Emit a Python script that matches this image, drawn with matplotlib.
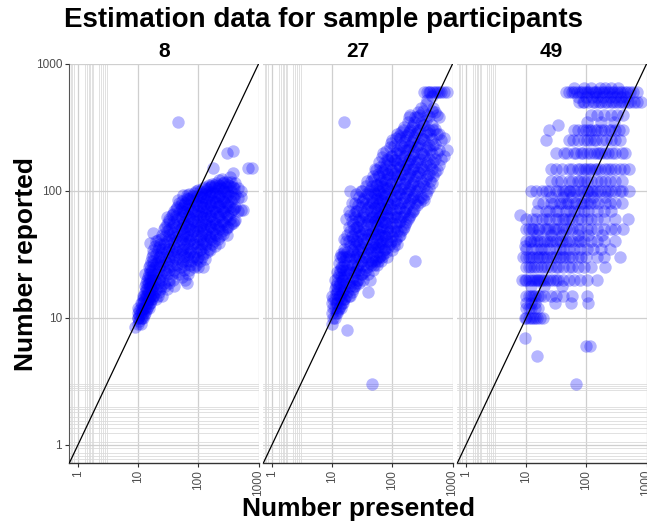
import matplotlib
matplotlib.use("Agg")
import matplotlib.pyplot as plt
from matplotlib.ticker import FixedLocator, FixedFormatter

plt.rcParams['font.family'] = ['Liberation Sans', 'DejaVu Sans']

# ---------------- data ----------------
title = "Estimation data for sample participants"
participants = ["8", "27", "49"]
x_label = "Number presented"
y_label = "Number reported"
major_ticks = [1, 10, 100, 1000]
major_tick_labels = ["1", "10", "100", "1000"]
minor_x_grid = [0.76, 0.8, 0.85, 1.3, 1.4, 1.5, 1.6, 1.7, 1.8, 2.2, 2.4, 2.6, 2.8, 3.0]
minor_y_grid = [0.78, 0.82, 0.87, 0.95, 1.05, 1.25, 1.35, 1.45, 1.55, 1.65,
                1.8, 1.9, 2.0, 2.7, 2.8, 2.9, 3.0]

# participant 8: presented -> reported values
p8_data = {
    9: [8.5], 10: [9, 10, 11, 12, 10], 10.5: [9.5, 10.5, 11.5], 11: [9, 10, 11, 12, 13],
    11.5: [10, 11.5, 13], 12: [10, 11, 12, 14, 15], 12.5: [10.5, 12, 13.5, 15],
    13: [11, 12, 14, 16, 18, 22], 13.5: [11.5, 13, 15, 17, 19], 14: [12, 13, 15, 17, 20],
    14.5: [12.5, 14, 16, 18.5, 21], 15: [12, 14, 16, 19, 22, 25],
    15.5: [13, 15, 17.5, 20, 24], 16: [13, 15, 18, 21, 26, 39],
    16.5: [14, 16.5, 19, 23, 28], 17: [14, 17, 20, 24, 30], 17.5: [15, 18, 21, 26, 32],
    18: [15, 18, 22, 28, 34, 47], 19: [16, 20, 25, 37], 20: [14, 17, 22, 27, 32, 40],
    21: [15, 19, 23, 28, 34, 41], 22: [16, 20, 25, 30, 36], 23: [17, 21, 26, 31, 38],
    24: [18, 22, 28, 33, 42], 25: [15, 20, 26, 35, 45], 27: [19, 24, 30, 38, 50],
    28: [18, 23, 28, 35, 44, 52], 30: [17, 22, 27, 33, 40, 48, 55, 62],
    32: [19, 24, 29, 35, 42, 50, 58], 33: [20, 25, 31, 37, 45, 60],
    36: [22, 28, 34, 42, 52, 65], 38: [20, 26, 32, 39, 47, 57, 66],
    40: [18, 24, 30, 36, 44, 55, 70], 42: [23, 29, 35, 43, 52, 63, 72],
    44: [26, 33, 40, 48, 60, 75], 46: [85, 350],
    48: [22, 29, 36, 45, 55, 68, 80], 52: [25, 32, 40, 50, 62, 78],
    54: [21, 27, 34, 42, 51, 61, 73, 84], 56: [28, 35, 44, 55, 70, 93],
    58: [24, 31, 38, 47, 57, 68, 78], 60: [20, 26, 33, 42, 52, 65, 80],
    65: [19, 30, 38, 47, 58, 72, 88, 93], 68: [22, 28, 35, 43, 53, 64, 76, 86],
    70: [24, 32, 40, 50, 62, 78, 95], 74: [26, 33, 41, 50, 60, 72, 88],
    76: [28, 35, 45, 56, 70, 85], 82: [30, 38, 48, 60, 75, 92],
    86: [25, 31, 39, 48, 58, 70, 84, 96], 90: [26, 33, 42, 52, 65, 80, 100],
    95: [29, 36, 44, 54, 66, 78, 92], 100: [25, 30, 38, 48, 58, 70, 85, 101],
    105: [28, 34, 42, 52, 63, 76, 90, 100], 110: [35, 44, 54, 66, 80, 95],
    115: [30, 38, 47, 57, 69, 82, 97], 120: [25, 32, 40, 50, 62, 75, 90, 105],
    128: [29, 36, 45, 55, 66, 79, 94, 108], 135: [38, 47, 58, 70, 85, 100],
    142: [33, 41, 50, 61, 74, 88, 104], 150: [35, 44, 55, 68, 82, 98, 112],
    158: [34, 43, 53, 64, 77, 92, 108], 165: [42, 52, 64, 78, 95, 110],
    172: [38, 47, 57, 69, 83, 99, 114], 178: [152], 180: [40, 50, 60, 74, 90, 108],
    190: [37, 46, 56, 68, 82, 97, 112], 200: [45, 55, 68, 82, 100, 115],
    210: [42, 52, 63, 76, 90, 106], 220: [39, 50, 62, 76, 92, 112, 121],
    230: [44, 54, 66, 80, 95, 110], 245: [48, 58, 72, 88, 105, 125],
    260: [46, 57, 70, 84, 100, 115], 270: [55, 68, 82, 100, 118],
    285: [50, 62, 75, 90, 108], 300: [45, 52, 65, 80, 98, 118, 200],
    315: [52, 64, 78, 94, 112], 330: [60, 75, 92, 110, 128],
    350: [55, 68, 84, 100, 118], 370: [56, 72, 90, 108, 138, 205],
    390: [58, 72, 88, 105], 410: [59, 75, 95, 115],
    460: [70, 88, 105], 520: [71, 90, 100], 560: [71], 660: [152], 790: [152],
}

# participant 27: presented -> reported values
p27_data = {
    10: [9, 11, 13, 15], 10.5: [10, 12, 14], 11: [10, 12, 14, 17, 20],
    11.5: [11, 13, 15.5, 18], 12: [11, 13, 16, 19, 23], 12.5: [11.5, 14, 17, 21],
    13: [12, 15, 18, 22, 27], 13.5: [12.5, 15, 19, 24, 30], 14: [12, 14, 17, 21, 25, 32],
    14.5: [13, 16, 20, 25, 31], 15: [13, 16, 20, 24, 30], 15.5: [14, 17, 21, 26, 33, 42],
    16: [14, 18, 22, 28, 35, 350], 17: [15, 19, 24, 30, 40, 60],
    18: [8, 16, 21, 26, 33, 45], 19: [15, 19, 24, 31, 40, 52, 70],
    20: [15, 18, 23, 29, 37, 48, 65, 100], 21: [16, 20, 26, 34, 44, 58, 80],
    22: [17, 21, 26, 33, 42, 55], 23: [18, 23, 30, 38, 50, 66],
    24: [18, 23, 29, 37, 47, 62, 80], 25: [19, 24, 31, 40, 52, 70, 95],
    26: [20, 25, 32, 40, 52, 70], 27: [20, 26, 34, 44, 58, 78],
    28: [19, 24, 30, 38, 48, 60, 90], 30: [22, 28, 35, 45, 58, 75, 100],
    31: [22, 28, 36, 47, 62, 82, 100], 33: [20, 26, 33, 42, 54, 68, 85],
    34: [23, 30, 39, 50, 66, 88], 36: [24, 30, 38, 48, 62, 80, 110],
    38: [25, 32, 42, 55, 72, 96, 120], 40: [16, 22, 28, 35, 45, 58, 75, 95],
    42: [20, 27, 35, 46, 60, 78, 102], 44: [26, 33, 42, 54, 70, 90, 120],
    46: [3, 28, 36, 47, 62, 82, 110], 48: [24, 30, 38, 48, 62, 80, 100, 130],
    50: [26, 34, 44, 57, 74, 96, 125], 52: [28, 36, 46, 58, 74, 95, 150],
    54: [29, 38, 50, 65, 85, 112, 145], 56: [26, 33, 42, 54, 68, 88, 112],
    58: [28, 36, 46, 60, 78, 102, 135], 60: [30, 38, 48, 62, 80, 100, 130, 170],
    63: [31, 40, 52, 68, 88, 115, 155], 65: [28, 36, 45, 58, 74, 95, 120],
    68: [30, 39, 50, 65, 85, 110, 145, 185], 70: [32, 40, 52, 66, 84, 108, 140, 200],
    73: [34, 44, 57, 74, 96, 125, 165], 76: [35, 45, 57, 72, 92, 118, 150],
    79: [33, 43, 56, 72, 94, 122, 160, 205], 82: [30, 40, 50, 64, 82, 105, 135, 180],
    86: [36, 47, 61, 79, 103, 135, 175], 90: [38, 48, 62, 78, 100, 128, 165, 220],
    95: [40, 52, 67, 87, 113, 147, 190, 240],
    100: [34, 44, 56, 72, 90, 115, 145, 190, 250],
    105: [37, 48, 62, 80, 104, 135, 175, 225], 110: [40, 52, 66, 85, 108, 138, 175],
    115: [42, 55, 71, 92, 120, 155, 200, 260],
    120: [38, 48, 62, 80, 100, 130, 165, 210, 280],
    128: [44, 57, 74, 96, 124, 160, 210, 270], 135: [45, 58, 74, 95, 120, 155, 200, 260],
    142: [48, 62, 80, 104, 135, 175, 230, 290], 150: [50, 64, 82, 105, 135, 170, 220, 300],
    158: [52, 68, 88, 114, 148, 190, 245, 320], 165: [55, 70, 90, 115, 150, 190, 250],
    172: [57, 74, 96, 124, 160, 210, 270], 180: [60, 78, 100, 128, 165, 210, 280, 350],
    190: [62, 80, 104, 135, 175, 225, 290, 380], 200: [65, 85, 110, 140, 180, 230, 300, 400],
    210: [68, 88, 114, 148, 190, 245, 320], 220: [70, 90, 118, 150, 195, 250, 330],
    230: [72, 94, 122, 158, 205, 265, 350], 240: [28, 80, 100, 130, 170, 220, 280, 380],
    255: [78, 100, 130, 170, 220, 285, 380], 270: [85, 110, 140, 180, 230, 300, 420],
    285: [82, 106, 138, 180, 235, 305, 400], 300: [90, 120, 155, 200, 260, 340, 450],
    320: [88, 115, 150, 195, 255, 330, 430], 340: [85, 110, 145, 190, 250, 330, 600],
    360: [95, 124, 160, 210, 275, 360, 480], 380: [100, 130, 170, 220, 290, 400, 520, 600],
    400: [105, 136, 178, 232, 300, 390, 600], 420: [120, 160, 210, 280, 600],
    450: [115, 150, 195, 255, 330, 430, 560], 480: [130, 170, 230, 300, 450, 600],
    520: [140, 180, 235, 310, 420, 600], 550: [146, 200, 280, 400, 600],
    600: [160, 210, 280, 380, 600], 650: [180, 250, 600], 720: [190, 260, 600],
    800: [210, 600],
}

# participant 49: reported value -> presented values (answers fall on round numbers)
p49_data = {
    650: [62, 93, 118, 166, 207, 255, 338],
    600: [46, 51, 57, 63, 71, 78, 86, 94, 103, 112, 127, 138, 147, 162, 184, 197, 223,
          236, 268, 287, 318, 356, 385, 437, 472, 538, 590, 690],
    550: [72, 97, 123, 148, 187, 243, 296, 372, 465],
    500: [76, 87, 93, 108, 127, 138, 163, 177, 204, 221, 254, 276, 314, 346, 393, 427,
          485, 535, 610, 690, 820],
    400: [118, 153, 196, 254, 318, 405],
    350: [103, 178, 284],
    330: [34],
    300: [24, 62, 73, 87, 98, 112, 118, 137, 148, 173, 196, 234, 257, 305, 346, 408],
    250: [21, 52, 61, 74, 92, 103, 113, 132, 147, 183, 216, 254, 296, 356],
    200: [31, 42, 48, 62, 68, 82, 88, 102, 113, 132, 148, 163, 178, 205, 226, 264, 296,
          385, 445],
    150: [26, 31, 39, 52, 58, 72, 78, 92, 98, 112, 118, 137, 152, 168, 204, 226, 254,
          296, 356, 415, 510],
    120: [26, 32, 38, 52, 58, 72, 79, 92, 103, 118, 153, 176, 205, 246, 305, 395],
    100: [12, 14.5, 18.5, 21, 24, 31, 34, 41, 44, 52, 54, 62, 68, 82, 88, 102, 108, 122,
          133, 152, 168, 205, 226, 254, 296, 356, 395, 510],
    90: [26, 41, 58, 92, 127, 205],
    80: [15.5, 19, 26, 29, 36, 39, 46, 49, 62, 68, 82, 88, 103, 113, 133, 158, 204, 246,
         305, 395],
    70: [15, 21, 24, 31, 34, 46, 53, 62, 73, 92, 108, 153, 196, 254],
    65: [8],
    60: [10, 12.5, 14.5, 18.5, 21, 24, 31, 34, 41, 44, 52, 58, 72, 83, 102, 118, 153, 196,
         305, 490],
    50: [10, 11, 12.5, 13, 15.5, 16.5, 20.5, 22, 24, 28.5, 31, 34, 41, 46, 52, 58, 72, 78,
         102, 118, 153, 196, 254, 296, 405],
    45: [15, 26, 39, 72, 108, 183],
    40: [10, 11.5, 12, 13.5, 15, 17, 19.5, 22.5, 25, 27, 31, 36, 39, 46, 52, 58, 72, 78,
         92, 118, 153, 196, 305],
    37: [9.6],
    35: [10, 12.5, 15, 17.5, 20, 24, 31, 36, 41, 52, 62, 78, 103, 127, 173, 246],
    30: [9, 10, 11, 12, 13, 15, 16.5, 18.5, 20, 22, 26, 28, 31, 36, 41, 44, 52, 58, 72, 82,
         98, 153, 196, 356],
    25: [10, 11, 12, 13.5, 15, 17.5, 19.5, 22, 26, 31, 34, 41, 52, 58, 72, 92, 118, 205],
    20: [8.5, 9.5, 10, 11, 12, 13, 14, 15, 16, 17, 18.5, 20, 22, 25, 28, 31, 34, 41, 52,
         62, 78, 102, 148],
    18: [12, 20, 40],
    15: [10, 11, 12, 13, 14, 15.5, 17, 20, 26, 31, 41, 58, 103],
    13: [10, 12, 14, 30, 56, 108],
    12: [10, 11, 12, 14, 16],
    10: [9.5, 10, 11, 12, 13, 14, 15, 17, 19],
    7: [9.6],
    6: [100, 115],
    5: [15],
    3: [68],
}

# ---------------- build point lists ----------------
def from_presented(d):
    xs, ys = [], []
    for x, vals in d.items():
        for v in vals:
            xs.append(x); ys.append(v)
    return xs, ys

def from_reported(d):
    xs, ys = [], []
    for y, vals in d.items():
        for v in vals:
            xs.append(v); ys.append(y)
    return xs, ys

series = [from_presented(p8_data), from_presented(p27_data), from_reported(p49_data)]

# ---------------- figure ----------------
W, H = 647, 525
fig = plt.figure(figsize=(W / 100, H / 100), dpi=100)

lo, hi = 0.71, 1000
left0, pw, gap = 69, 189.5, 4.5
top_px, bot_px = 64, 463

for i, (name, (xs, ys)) in enumerate(zip(participants, series)):
    l = left0 + i * (pw + gap)
    ax = fig.add_axes([l / W, 1 - bot_px / H, pw / W, (bot_px - top_px) / H])
    ax.set_xscale('log'); ax.set_yscale('log')
    ax.set_xlim(lo, hi); ax.set_ylim(0.72, hi)

    ax.xaxis.set_major_locator(FixedLocator(major_ticks))
    ax.yaxis.set_major_locator(FixedLocator(major_ticks))
    ax.xaxis.set_major_formatter(FixedFormatter(major_tick_labels))
    ax.yaxis.set_major_formatter(FixedFormatter(major_tick_labels))
    ax.xaxis.set_minor_locator(FixedLocator(minor_x_grid))
    ax.yaxis.set_minor_locator(FixedLocator(minor_y_grid))
    ax.xaxis.set_minor_formatter(FixedFormatter([""] * len(minor_x_grid)))
    ax.yaxis.set_minor_formatter(FixedFormatter([""] * len(minor_y_grid)))

    ax.grid(True, which='major', color='#cfcfcf', lw=0.9, zorder=0)
    ax.grid(True, which='minor', color='#dcdcdc', lw=0.6, zorder=0)
    ax.set_axisbelow(True)

    ax.tick_params(which='minor', length=0)
    ax.tick_params(which='major', length=3, color='#333333', width=0.8,
                   labelsize=8.5, labelcolor='#4d4d4d', pad=2)
    ax.tick_params(axis='x', which='major', labelrotation=90, pad=2)
    for lab in ax.get_xticklabels():
        lab.set_va('top'); lab.set_ha('center')

    for s in ['top', 'right']:
        ax.spines[s].set_visible(False)
    ax.spines['bottom'].set_color('#333333'); ax.spines['bottom'].set_linewidth(1.0)
    if i == 0:
        ax.spines['left'].set_color('#555555'); ax.spines['left'].set_linewidth(0.8)
    else:
        ax.spines['left'].set_visible(False)
        ax.tick_params(axis='y', which='both', left=False, labelleft=False)

    ax.scatter(xs, ys, s=80, color='#0000ff', alpha=0.29, linewidths=0, zorder=3)
    ax.plot([0.3, 3000], [0.3, 3000], color='black', lw=0.9, zorder=4)

    ax.set_title(name, fontsize=15, fontweight='bold', pad=5)

fig.text(0.5, 1 - 20 / H, title, ha='center', va='center', fontsize=20, fontweight='bold')
fig.text(358 / W, 1 - 509 / H, x_label, ha='center', va='center', fontsize=19, fontweight='bold')
fig.text(26 / W, 1 - 264 / H, y_label, ha='center', va='center', rotation=90,
         fontsize=19, fontweight='bold')

fig.savefig('out.png', dpi=100)
